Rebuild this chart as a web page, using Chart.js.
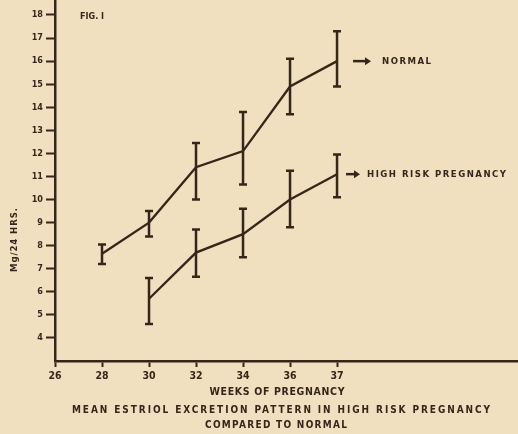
<!DOCTYPE html>
<html>
<head>
<meta charset="utf-8">
<script src="https://cdn.jsdelivr.net/npm/chart.js@4.4.1/dist/chart.umd.min.js"></script>
<style>
  html, body { margin: 0; padding: 0; background: #f0e0c0; }
  #wrap { width: 518px; height: 434px; position: relative; }
</style>
</head>
<body>
<div id="wrap"><canvas id="fig"></canvas></div>
<script>
"use strict";

// Data (mg / 24 hrs)
const weekLabels = ['26', '28', '30', '32', '34', '36', '37'];

const normalWeeks = ['28', '30', '32', '34', '36', '37'];
const normalMean  = [7.65, 9.0, 11.4, 12.1, 14.9, 16.0];
const normalLow   = [7.2, 8.4, 10.0, 10.65, 13.7, 14.9];
const normalHigh  = [8.05, 9.5, 12.45, 13.8, 16.1, 17.3];

const riskWeeks = ['30', '32', '34', '36', '37'];
const riskMean  = [5.7, 7.7, 8.5, 10.0, 11.1];
const riskLow   = [4.6, 6.65, 7.5, 8.8, 10.1];
const riskHigh  = [6.6, 8.7, 9.6, 11.25, 11.95];

const INK = '#35261a';
const FONT = "'DejaVu Sans Condensed', 'DejaVu Sans', sans-serif";

const toPoints = (weeks, vals) => weeks.map((w, i) => ({ x: weekLabels.indexOf(w), y: vals[i] }));

// error bars, drawn through the chart scales
const errorBars = {
    id: 'errorBars',
    afterDatasetsDraw(chart) {
        const ctx = chart.ctx;
        const xs = chart.scales.x, ys = chart.scales.y;
        ctx.save();
        ctx.strokeStyle = INK;
        ctx.lineWidth = 2.5;
        chart.data.datasets.forEach(ds => {
            ds.data.forEach((p, i) => {
                const px = xs.getPixelForValue(p.x);
                const top = ys.getPixelForValue(ds.errHigh[i]);
                const bot = ys.getPixelForValue(ds.errLow[i]);
                ctx.beginPath();
                ctx.moveTo(px, top); ctx.lineTo(px, bot);
                ctx.moveTo(px - 4, top); ctx.lineTo(px + 4, top);
                ctx.moveTo(px - 4, bot); ctx.lineTo(px + 4, bot);
                ctx.stroke();
            });
        });
        ctx.restore();
    }
};

function spacedText(ctx, text, cx, cy, width) {
    ctx.letterSpacing = '0px';
    const w = ctx.measureText(text).width;
    const sp = Math.max(0, (width - w) / (text.length - 1));
    ctx.letterSpacing = sp + 'px';
    ctx.fillText(text, cx + sp / 2, cy);
    ctx.letterSpacing = '0px';
}

// labels, arrows and captions
const annotations = {
    id: 'annotations',
    afterDraw(chart) {
        const ctx = chart.ctx;
        const xs = chart.scales.x, ys = chart.scales.y;
        ctx.save();
        ctx.fillStyle = INK;
        ctx.strokeStyle = INK;
        ctx.textBaseline = 'middle';

        // series labels next to the last points
        chart.data.datasets.forEach(ds => {
            const last = ds.data[ds.data.length - 1];
            const px = xs.getPixelForValue(last.x);
            const py = ys.getPixelForValue(last.y);
            const a0 = px + ds.arrowGap, a1 = a0 + ds.arrowLen;
            ctx.lineWidth = 2.5;
            ctx.beginPath();
            ctx.moveTo(a0, py); ctx.lineTo(a1 - 3, py);
            ctx.stroke();
            ctx.beginPath();
            ctx.moveTo(a1 + 1, py); ctx.lineTo(a1 - 5, py - 4); ctx.lineTo(a1 - 5, py + 4);
            ctx.closePath(); ctx.fill();
            ctx.font = 'bold 9.5px ' + FONT;
            ctx.textAlign = 'center';
            const x0 = a1 + ds.textGap;
            spacedText(ctx, ds.label, x0 + ds.textWidth / 2, py, ds.textWidth);
        });

        ctx.textAlign = 'center';
        ctx.font = 'bold 9px ' + FONT;
        ctx.fillText('FIG. I', 92, 17);

        ctx.font = 'bold 10.5px ' + FONT;
        spacedText(ctx, 'WEEKS OF PREGNANCY', 277, 392, 135);
        ctx.font = 'bold 10px ' + FONT;
        spacedText(ctx, 'MEAN ESTRIOL EXCRETION PATTERN IN HIGH RISK PREGNANCY', 281, 410, 418);
        spacedText(ctx, 'COMPARED TO NORMAL', 276, 425, 142);

        ctx.translate(15, 240);
        ctx.rotate(-Math.PI / 2);
        ctx.font = 'bold 9.5px ' + FONT;
        spacedText(ctx, 'Mg/24 HRS.', 0, 0, 64);
        ctx.restore();
    }
};

const lineStyle = {
    borderColor: INK,
    borderWidth: 2.3,
    pointRadius: 0,
    fill: false,
    tension: 0
};

new Chart(document.getElementById('fig'), {
    type: 'line',
    data: {
        datasets: [
            Object.assign({
                label: 'NORMAL',
                data: toPoints(normalWeeks, normalMean),
                errLow: normalLow, errHigh: normalHigh,
                arrowGap: 16, arrowLen: 17, textGap: 12, textWidth: 49
            }, lineStyle),
            Object.assign({
                label: 'HIGH RISK PREGNANCY',
                data: toPoints(riskWeeks, riskMean),
                errLow: riskLow, errHigh: riskHigh,
                arrowGap: 9, arrowLen: 13, textGap: 8, textWidth: 139
            }, lineStyle)
        ]
    },
    options: {
        responsive: true,
        maintainAspectRatio: false,
        animation: false,
        layout: { padding: 0 },
        plugins: {
            legend: { display: false },
            tooltip: { enabled: false }
        },
        scales: {
            x: {
                type: 'linear',
                min: 0,
                max: 9.85,
                afterBuildTicks: s => { s.ticks = weekLabels.map((_, i) => ({ value: i })); },
                afterFit: s => { s.height = 73; s.paddingRight = 0; s.paddingLeft = 0; },
                border: { color: INK, width: 2.5 },
                grid: { drawOnChartArea: false, tickLength: 6, tickColor: INK, tickWidth: 2 },
                ticks: {
                    color: INK,
                    padding: 3,
                    maxRotation: 0,
                    font: { family: FONT, size: 10.5, weight: 'bold' },
                    callback: v => weekLabels[v]
                }
            },
            y: {
                min: 3,
                max: 18.65,
                afterBuildTicks: s => {
                    const t = [];
                    for (let v = 4; v <= 18; v++) t.push({ value: v });
                    s.ticks = t;
                },
                afterFit: s => { s.width = 55; s.paddingTop = 0; s.paddingBottom = 0; },
                border: { color: INK, width: 2.5 },
                grid: { drawOnChartArea: false, tickLength: 9, tickColor: INK, tickWidth: 2 },
                ticks: {
                    color: INK,
                    padding: 3,
                    font: { family: FONT, size: 9, weight: 'bold' }
                }
            }
        }
    },
    plugins: [errorBars, annotations]
});
</script>
</body>
</html>
